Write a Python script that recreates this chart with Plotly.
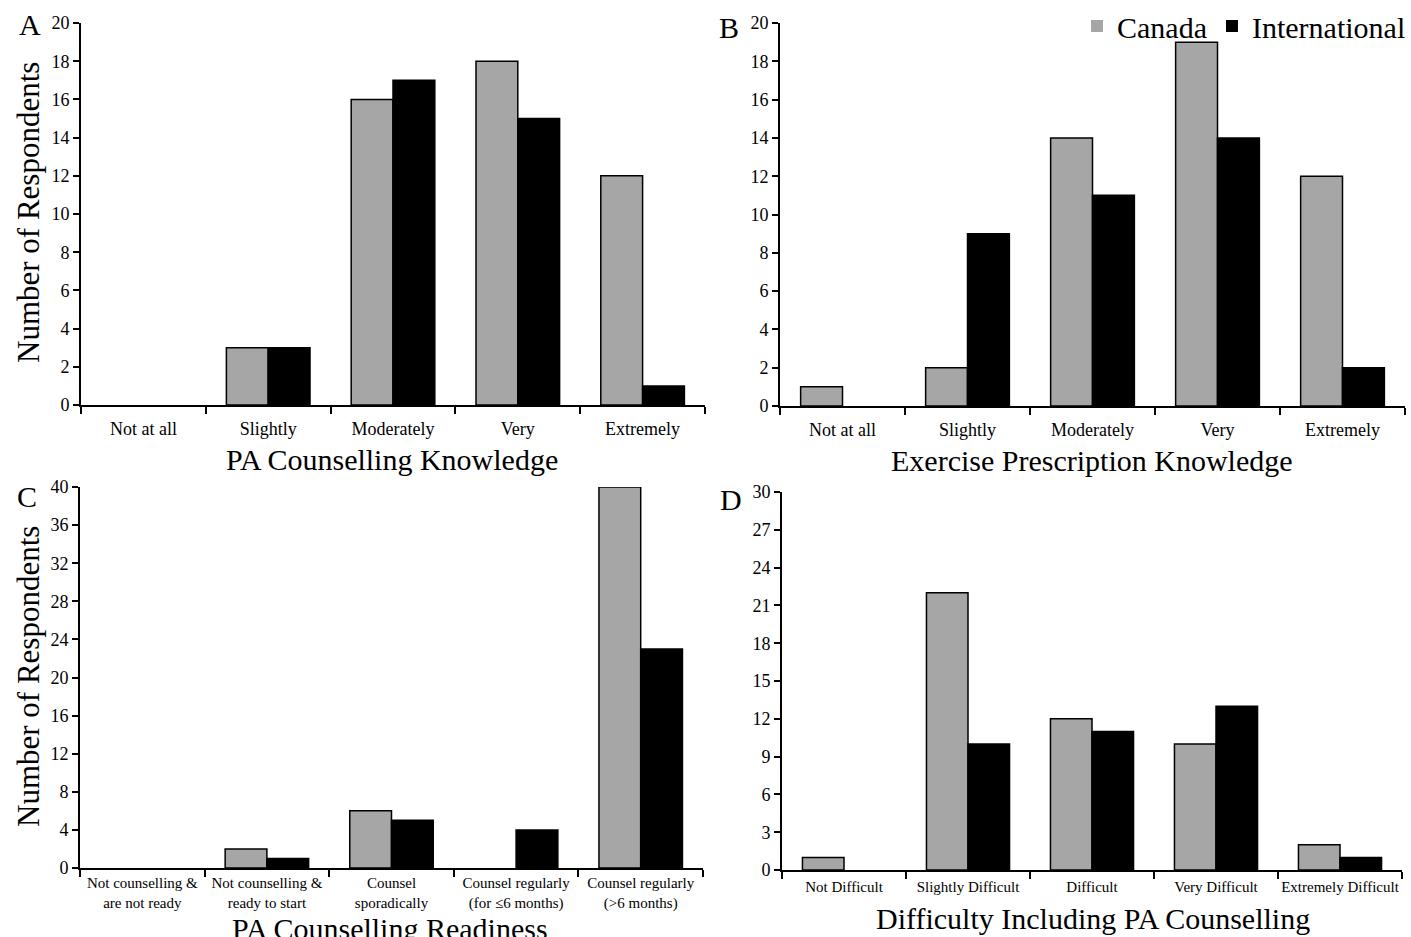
import plotly.graph_objects as go

W, H = 1411, 937
FONT = "Liberation Serif"

# ---- data ----
cats_A = ["Not at all", "Slightly", "Moderately", "Very", "Extremely"]
canada_A = [0, 3, 16, 18, 12]
intl_A = [0, 3, 17, 15, 1]

cats_B = ["Not at all", "Slightly", "Moderately", "Very", "Extremely"]
canada_B = [1, 2, 14, 19, 12]
intl_B = [0, 9, 11, 14, 2]

cats_C = ["Not counselling &<br>are not ready", "Not counselling &<br>ready to start",
          "Counsel<br>sporadically", "Counsel regularly<br>(for ≤6 months)",
          "Counsel regularly<br>(>6 months)"]
canada_C = [0, 2, 6, 0, 40]
intl_C = [0, 1, 5, 4, 23]

cats_D = ["Not Difficult", "Slightly Difficult", "Difficult", "Very Difficult", "Extremely Difficult"]
canada_D = [1, 22, 12, 10, 2]
intl_D = [0, 10, 11, 13, 1]

titles = ["PA Counselling Knowledge", "Exercise Prescription Knowledge",
          "PA Counselling Readiness", "Difficulty Including PA Counselling"]
letters = ["A", "B", "C", "D"]
y_ranges = [(20, 2), (20, 2), (40, 4), (30, 3)]

GRAY = "#a6a6a6"

def px_x(p):
    return p / W

def px_y(p):
    return 1 - p / H

# panel pixel boxes: (left, right, top, bottom)
boxes = [(81, 705, 23, 405), (780, 1405, 23, 406), (80, 703, 487, 868), (782, 1402, 492, 870)]
tick_sizes = [18, 18, 15, 15]
tick_standoff = [6, 6, 0, 2]

fig = go.Figure()
panels = [(cats_A, canada_A, intl_A), (cats_B, canada_B, intl_B),
          (cats_C, canada_C, intl_C), (cats_D, canada_D, intl_D)]

layout = dict(width=W, height=H, autosize=False, margin=dict(l=0, r=0, t=0, b=0, autoexpand=False),
              paper_bgcolor="white", plot_bgcolor="white", barmode="group",
              bargap=0.33, bargroupgap=0,
              font=dict(family=FONT, color="black"))

def lw(vals):
    return [0 if v == 0 else 1.5 for v in vals]

for i, (cats, can, intl) in enumerate(panels):
    n = "" if i == 0 else str(i + 1)
    fig.add_trace(go.Bar(x=cats, y=can, name="Canada",
                         marker=dict(color=GRAY, line=dict(color="black", width=lw(can))),
                         xaxis="x" + n, yaxis="y" + n, showlegend=(i == 0), offsetgroup="c"))
    fig.add_trace(go.Bar(x=cats, y=intl, name="International",
                         marker=dict(color="black", line=dict(color="black", width=lw(intl))),
                         xaxis="x" + n, yaxis="y" + n, showlegend=(i == 0), offsetgroup="i"))
    l, r, t, b = boxes[i]
    ymax, dt = y_ranges[i]
    layout["xaxis" + n] = dict(domain=[px_x(l), px_x(r)], anchor="y" + n, type="category",
                               range=[-0.5, len(cats) - 0.5], tickson="boundaries",
                               ticks="outside", ticklen=7, tickwidth=2, tickcolor="black",
                               showline=True, linewidth=2, linecolor="black", showgrid=False,
                               tickangle=0, automargin=False, ticklabelstandoff=tick_standoff[i],
                               tickfont=dict(family=FONT, size=tick_sizes[i], color="black"),
                               fixedrange=True)
    layout["yaxis" + n] = dict(domain=[px_y(b), px_y(t)], anchor="x" + n, range=[0, ymax], dtick=dt,
                               ticks="outside", ticklen=6, tickwidth=2, tickcolor="black",
                               showline=True, linewidth=2, linecolor="black", showgrid=False,
                               zeroline=False, automargin=False,
                               tickfont=dict(family=FONT, size=18, color="black"),
                               fixedrange=True)

ann = []
# panel letters
for (x, y), L in zip([(30, 25), (729, 27), (27, 497), (731, 500)], letters):
    ann.append(dict(x=px_x(x), y=px_y(y), xref="paper", yref="paper", text=L, showarrow=False,
                    font=dict(family=FONT, size=30, color="black"), xanchor="center", yanchor="middle"))
# x titles
for (x, y), T in zip([(392, 459), (1092, 461), (390, 928), (1093, 918)], titles):
    ann.append(dict(x=px_x(x), y=px_y(y), xref="paper", yref="paper", text=T, showarrow=False,
                    font=dict(family=FONT, size=30, color="black"), xanchor="center", yanchor="middle"))
# y titles
for (x, y) in [(28, 213), (28, 677)]:
    ann.append(dict(x=px_x(x), y=px_y(y), xref="paper", yref="paper", text="Number of Respondents",
                    showarrow=False, textangle=-90,
                    font=dict(family=FONT, size=31, color="black"), xanchor="center", yanchor="middle"))

layout["annotations"] = ann
layout["legend"] = dict(orientation="h", x=1.0, xanchor="right", y=1.0, yanchor="top",
                        font=dict(family=FONT, size=30, color="black"), bgcolor="rgba(0,0,0,0)",
                        itemwidth=30, tracegroupgap=0)
fig.update_layout(**layout)
fig.write_html("out.html", config={"displayModeBar": False},
               post_script="document.body.style.margin='0';document.body.style.overflow='hidden';")
